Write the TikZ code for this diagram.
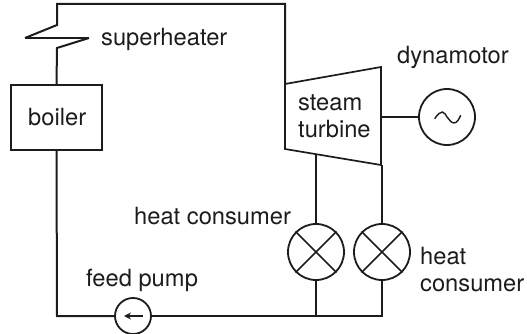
\documentclass[tikz,border=0pt]{standalone}
\usepackage{fontspec}
\setmainfont{TeX Gyre Heros}
\usetikzlibrary{arrows.meta}
\definecolor{ink}{HTML}{1C1C1C}
\tikzset{
  pipe/.style={draw=ink,line width=2pt,line join=miter},
  thin pipe/.style={draw=ink,line width=1.7pt},
  device/.style={circle,draw=ink,line width=1.8pt,minimum size=56pt,inner sep=0pt,fill=white},
  label/.style={anchor=base west,inner sep=0pt,text=ink,font=\fontsize{23.7}{28}\selectfont},
}
\begin{document}
\begin{tikzpicture}[x=1pt,y=-1pt]
\useasboundingbox (0,0) rectangle (527,334);
% coordinates
\coordinate (tl) at (57,4);
\coordinate (tr) at (285,4);
\coordinate (z1) at (57,25);
\coordinate (z2) at (25,38);
\coordinate (z3) at (89,38);
\coordinate (z4) at (57,48);
\coordinate (t1) at (285,84);
\coordinate (t2) at (381,67);
\coordinate (t3) at (381,165);
\coordinate (t4) at (285,149);
\coordinate (t5) at (316,154.2);
\coordinate (bl) at (57,316);
\coordinate (j1) at (316,316);
\coordinate (j2) at (382,316);
\coordinate (t6) at (382,165);
% nodes
\node[draw=ink,line width=1.7pt,minimum width=91pt,minimum height=65pt,inner sep=0pt] (boiler) at (56.5,117.5) {};
\node[device] (gen) at (447,117) {};
\node[device] (c1) at (316,252) {};
\node[device] (c2) at (382,252) {};
\node[device,minimum size=36pt] (pump) at (133,316) {};
% pipes
\draw[pipe] (boiler.north) -- (z4) -- (z3);
\draw[thin pipe,line width=1.3pt] (z3) -- (z2);
\draw[pipe] (z2) -- (z1) -- (tl) -- (tr) -- (t1);
\draw[thin pipe,line join=miter] (t1) -- (t2) -- (t3) -- (t4) -- cycle;
\draw[pipe] (boiler.south) -- (bl) -- (pump.west);
\draw[thin pipe] (pump.east) -- (j1) -- (j2) -- (c2.south);
\draw[thin pipe] (j1) -- (c1.south);
\draw[thin pipe] (t5) -- (c1.north);
\draw[thin pipe] (t6) -- (c2.north);
\draw[thin pipe] (t2 |- gen) -- (gen.west);
% symbols
\draw[thin pipe,line width=1.5pt] (c1.north west) -- (c1.south east) (c1.north east) -- (c1.south west);
\draw[thin pipe,line width=1.5pt] (c2.north west) -- (c2.south east) (c2.north east) -- (c2.south west);
\begin{scope}[shift={(gen.center)}]
\draw[thin pipe,line width=1.4pt] (-12.3,1.7) .. controls (-9,-3) and (-7,-5) .. (-4.7,-5) .. controls (-2,-5) and (-1.5,-1.5) .. (0,0) .. controls (2,2) and (4,6) .. (7,6) .. controls (10,6) and (12,2) .. (13.7,-1.7);
\end{scope}
\draw[draw=ink,line width=1.3pt,-{Stealth[length=7pt,width=7pt]}] (143,316) -- (124,316);
% labels
\node[label] (lsuper) at (101,46) {superheater};
\node[label] (lboiler) at (28,125) {boiler};
\node[label] (lsteam) at (298,111) {steam};
\node[label] (lturb) at (298,138) {turbine};
\node[label] (ldyn) at (397,64) {dynamotor};
\node[label] (lhc) at (134,224) {heat consumer};
\node[label] (lfeed) at (86,286) {feed pump};
\node[label] (lheat) at (420,264) {heat};
\node[label] (lcons) at (420,291) {consumer};
\end{tikzpicture}
\end{document}
